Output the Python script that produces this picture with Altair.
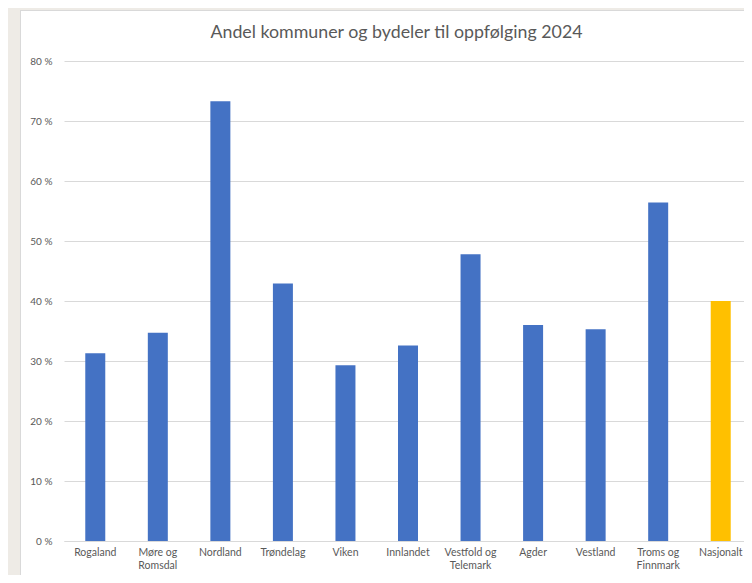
import altair as alt
import pandas as pd

categories = ["Rogaland", "Møre og Romsdal", "Nordland", "Trøndelag", "Viken",
              "Innlandet", "Vestfold og Telemark", "Agder", "Vestland",
              "Troms og Finnmark", "Nasjonalt"]
values = [31.3, 34.7, 73.3, 42.9, 29.3, 32.6, 47.8, 36.0, 35.3, 56.4, 40.0]
groups = ["Fylke"] * 10 + ["Nasjonalt"]
y_ticks = [0, 10, 20, 30, 40, 50, 60, 70, 80]
title_text = "Andel kommuner og bydeler til oppfølging 2024"

df = pd.DataFrame({"Region": categories, "Andel": values, "Gruppe": groups})

W, H = 680, 480
FONT = "Lato"
GREY = "#595959"
LINE = "#D9D9D9"
BEIGE = "#EEEBE6"

one = alt.Data(values=[{}])

left_strip = alt.Chart(one).mark_rect(color=BEIGE).encode(
    x=alt.value(-70), x2=alt.value(-44), y=alt.value(-70), y2=alt.value(H + 60))
top_strip = alt.Chart(one).mark_rect(color=BEIGE).encode(
    x=alt.value(-70), x2=alt.value(W + 20), y=alt.value(-70), y2=alt.value(-51))
border_v = alt.Chart(one).mark_rule(color=LINE, strokeWidth=1).encode(
    x=alt.value(-43.5), y=alt.value(-51), y2=alt.value(H + 60))
border_h = alt.Chart(one).mark_rule(color=LINE, strokeWidth=1).encode(
    x=alt.value(-44), x2=alt.value(W + 20), y=alt.value(-50.5))
title = alt.Chart(one).mark_text(text=title_text, font=FONT, fontSize=17.8, color=GREY,
                                 align="center", baseline="alphabetic").encode(
    x=alt.value(332.5), y=alt.value(-23))

bars = alt.Chart(df).mark_bar(size=20).encode(
    x=alt.X("Region:N", sort=categories, title=None,
            scale=alt.Scale(paddingInner=0, paddingOuter=0, range=[0, 688]),
            axis=alt.Axis(labelAngle=0, ticks=False, domainColor=LINE,
                          labelColor=GREY, labelFont=FONT, labelFontSize=10.5,
                          labelPadding=6, labelLineHeight=13,
                          labelExpr="split(replace(datum.label, 'og ', 'og\\n'), '\\n')")),
    y=alt.Y("Andel:Q", title=None,
            scale=alt.Scale(domain=[0, 80], nice=False),
            axis=alt.Axis(values=y_ticks, domain=False, ticks=False, gridColor=LINE,
                          labelColor=GREY, labelFont=FONT, labelFontSize=10,
                          labelPadding=12, labelExpr="datum.value + ' %'")),
    color=alt.Color("Gruppe:N", legend=None,
                    scale=alt.Scale(domain=["Fylke", "Nasjonalt"],
                                    range=["#4472C4", "#FFC000"])),
)

chart = alt.layer(left_strip, top_strip, border_v, border_h, title, bars).properties(
    width=W, height=H,
    padding={"left": 56, "top": 53, "right": 0, "bottom": 34},
    autosize=alt.AutoSizeParams(type="none"),
).configure(background="white").configure_view(stroke=None)

chart.save("out.html", embed_options={"renderer": "svg", "actions": False})
